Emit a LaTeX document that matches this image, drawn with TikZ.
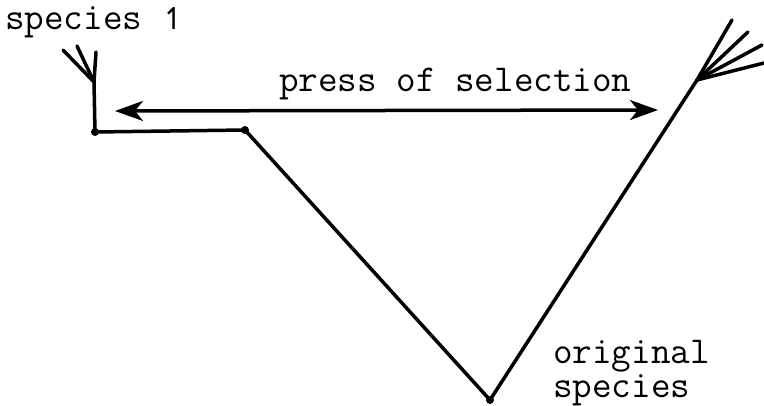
\documentclass[tikz,border=0pt]{standalone}
\usepackage{fontspec}
\newfontfamily\symfont{DejaVu Sans}
\usetikzlibrary{arrows.meta}
\begin{document}
\begin{tikzpicture}[x=1pt,y=-1pt,
  branch/.style={line width=3.5pt,line cap=round},
  lbl/.style={font=\fontsize{38}{42}\selectfont\ttfamily,inner sep=0pt,anchor=base west},
  dot/.style={circle,fill=black,inner sep=0pt,minimum size=8pt}]
\useasboundingbox (0,0) rectangle (764,406);
% branching points
\node[dot] (a) at (95,132) {};
\node[dot] (b) at (245,130) {};
\node[dot] (c) at (490,400) {};
\coordinate (lfork) at (94,82);
\coordinate (ltop) at (96,52);
\coordinate (l1) at (63,50);
\coordinate (l2) at (77,46);
\coordinate (rfork) at (697,80);
\coordinate (r1) at (732,20);
\coordinate (r2) at (748,32);
\coordinate (r3) at (762,45);
\coordinate (r4) at (764,63);
% lineage
\draw[branch] (ltop) -- (lfork) -- (a.center) -- (b.center) -- (c.center) -- (rfork);
\draw[branch] (lfork) -- (l1);
\draw[branch] (lfork) -- (l2);
\foreach \r in {r1,r2,r3,r4} \draw[branch] (rfork) -- (\r);
% selection pressure
\coordinate (pl) at (115,111);
\coordinate (pr) at (658,110);
\draw[line width=3.5pt,{Stealth[length=28pt,width=20pt,inset=8pt]}-{Stealth[length=28pt,width=20pt,inset=8pt]}] (pl) -- (pr);
% labels
\node[lbl] (t1) at (5,30) {species {\symfont\fontsize{30}{34}\selectfont ↿}};
\node[lbl] (t2) at (279,92) {press of selection};
\node[lbl] (t3) at (553,363) {original};
\node[lbl] (t4) at (553,398) {species};
\end{tikzpicture}
\end{document}
